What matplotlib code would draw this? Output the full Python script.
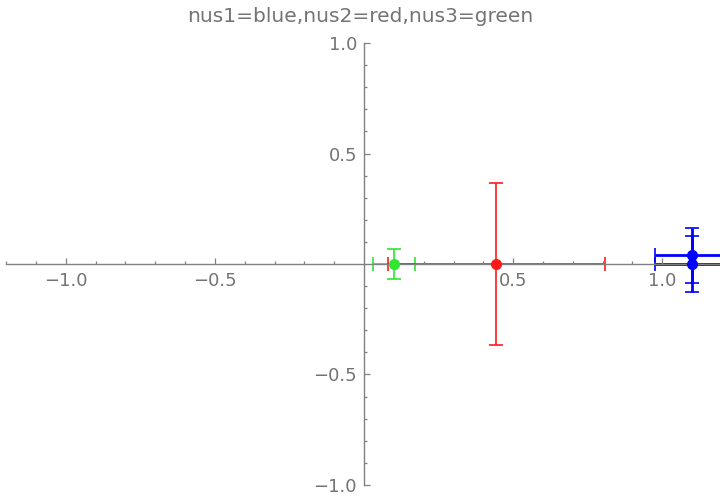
import matplotlib

matplotlib.use("Agg")
import matplotlib.pyplot as plt  # noqa: E402
import numpy as np  # noqa: E402
from matplotlib.ticker import FuncFormatter, FixedLocator  # noqa: E402

# nus1 = blue, nus2 = red, nus3 = green
nus1_x = [1.098, 1.098]
nus1_y = [0.04, 0.0]
nus1_xerr = [0.122, 0.122]
nus1_yerr = [0.125, 0.125]

nus2_x = [0.444]
nus2_y = [0.0]
nus2_xerr = [0.364]
nus2_yerr = [0.365]

nus3_x = [0.101]
nus3_y = [0.0]
nus3_xerr = [0.07]
nus3_yerr = [0.068]

major_ticks = [-1.0, -0.5, 0.5, 1.0]
title = "nus1=blue,nus2=red,nus3=green"

GREY = "#808080"
TEXT = "#737373"

fig = plt.figure(figsize=(7.2, 5), dpi=100)
ax = fig.add_axes([0, 0, 1, 1])
ax.patch.set_alpha(0)

series = [
    (nus3_x, nus3_y, nus3_xerr, nus3_yerr, "#2ee82e"),
    (nus2_x, nus2_y, nus2_xerr, nus2_yerr, "#ff1a1a"),
    (nus1_x, nus1_y, nus1_xerr, nus1_yerr, "#0000ff"),
]
for x, y, xe, ye, col in series:
    lw = 2.0 if col == "#0000ff" else 1.2
    ax.errorbar(x, y, xerr=xe, yerr=ye, fmt="none", ecolor=col,
                elinewidth=lw, capsize=5, capthick=1.2, zorder=1)
    ax.plot(x, y, "o", color=col, markersize=7, zorder=4, clip_on=False)

ax.set_xlim(-1.2203, 1.1934)
ax.set_ylim(-1.0679, 1.1946)

for side in ("top", "right"):
    ax.spines[side].set_visible(False)
ax.spines["left"].set_position(("data", 0))
ax.spines["bottom"].set_position(("data", 0))
ax.spines["left"].set_bounds(-1.0, 1.0)
ax.spines["bottom"].set_bounds(-1.2, 1.1934)
for side in ("left", "bottom"):
    ax.spines[side].set_color(GREY)
    ax.spines[side].set_linewidth(1.0)
    ax.spines[side].set_zorder(2.5)

minor_x = [v for v in np.round(np.arange(-1.2, 1.21, 0.1), 2)
           if v != 0 and v not in major_ticks]
minor_y = [v for v in np.round(np.arange(-1.0, 1.01, 0.1), 2)
           if v != 0 and v not in major_ticks]
ax.xaxis.set_major_locator(FixedLocator(major_ticks))
ax.yaxis.set_major_locator(FixedLocator(major_ticks))
ax.xaxis.set_minor_locator(FixedLocator(minor_x))
ax.yaxis.set_minor_locator(FixedLocator(minor_y))

fmt = FuncFormatter(lambda v, p: f"{v:.1f}".replace("-", "\u2212"))
ax.xaxis.set_major_formatter(fmt)
ax.yaxis.set_major_formatter(fmt)

ax.tick_params(which="both", direction="in", color=GREY, width=0.9,
               labelcolor=TEXT, labelsize=13)
ax.tick_params(which="major", length=4.5)
ax.tick_params(which="minor", length=2.5)
ax.tick_params(axis="x", which="major", pad=6)
ax.tick_params(axis="y", which="major", pad=5)

fig.text(0.5, 1 - 16 / 500, title, ha="center", va="center",
         color=TEXT, fontsize=14.5)

fig.savefig("out.png")
plt.close(fig)
